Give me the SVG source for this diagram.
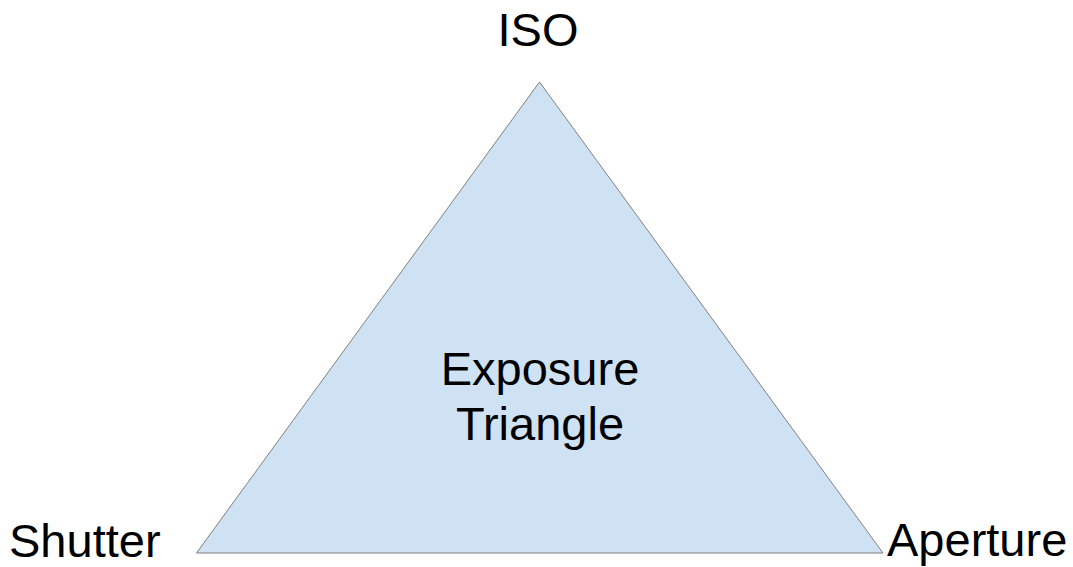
<svg xmlns="http://www.w3.org/2000/svg" width="1073" height="567" viewBox="0 0 1073 567">
<style>
.t{font-family:"Liberation Sans",Arial,sans-serif;font-size:47px;fill:#000}
</style>
<rect width="1073" height="567" fill="#fff"/>
<g id="triangle">
<polygon points="539.5,82 196.5,553 883,553" fill="#cfe2f3" stroke="#808080" stroke-width="1"/>
<text class="t" x="540" y="385" text-anchor="middle">Exposure</text>
<text class="t" x="540" y="440" text-anchor="middle">Triangle</text>
</g>
<g id="iso"><text class="t" x="538" y="46" text-anchor="middle">ISO</text></g>
<g id="shutter"><text class="t" x="9" y="557">Shutter</text></g>
<g id="aperture"><text class="t" x="887" y="556">Aperture</text></g>
<g id="connectors"/>
</svg>
